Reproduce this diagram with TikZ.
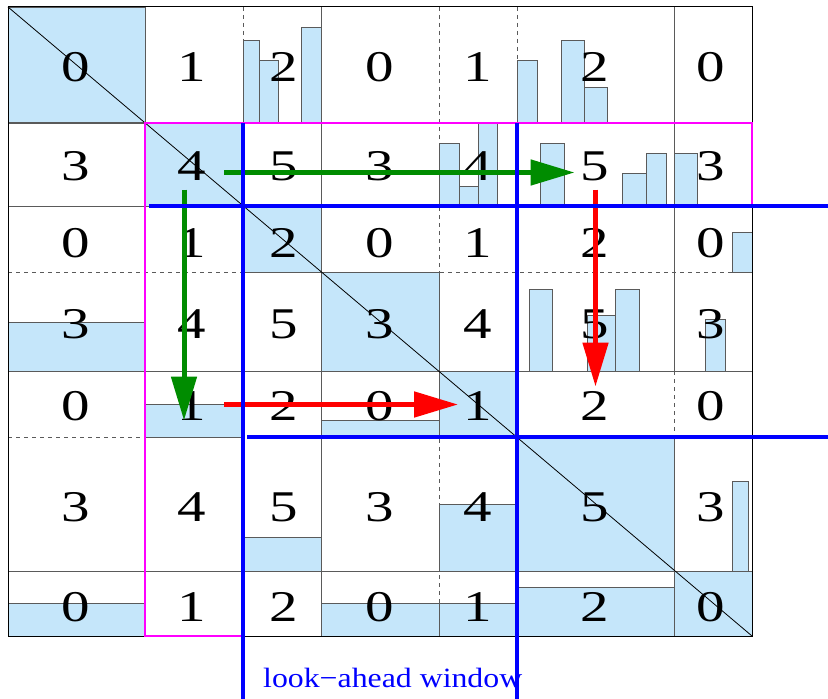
\documentclass[tikz,border=0pt]{standalone}
\usepackage{fontspec}
\setmainfont{Liberation Serif}
\newfontfamily\digitfont[FakeStretch=1.3]{Liberation Serif}
\newfontfamily\lblfont[FakeStretch=1.14]{Liberation Serif}
\usetikzlibrary{arrows.meta,calc}
\definecolor{cellblue}{RGB}{197,230,250}
\definecolor{gridgray}{RGB}{90,90,90}
\definecolor{arrgreen}{RGB}{0,140,0}
\definecolor{winblue}{RGB}{0,0,255}
\definecolor{pmag}{RGB}{255,0,255}
\definecolor{arrred}{RGB}{255,0,0}
\tikzset{
  fillbox/.style={fill=cellblue, draw=gridgray, line width=0.8bp},
  gridsolid/.style={draw=gridgray, line width=1bp},
  griddash/.style={draw=gridgray, line width=1bp, dash pattern=on 4bp off 4bp},
  digit/.style={font=\digitfont\fontsize{44}{44}\selectfont, inner sep=0pt},
  winline/.style={draw=winblue, line width=4.5bp},
  magline/.style={draw=pmag, line width=2.3bp},
  garrow/.style={draw=arrgreen, line width=5bp, -{Triangle[length=44bp,width=25bp]}},
  rarrow/.style={draw=arrred, line width=5bp, -{Triangle[length=44bp,width=25bp]}},
  wlabel/.style={text=winblue, font=\lblfont\fontsize{28}{28}\selectfont, inner sep=0pt}
}
\begin{document}
\begin{tikzpicture}[x=1bp,y=-1bp]
\useasboundingbox (0,0) rectangle (828,699);
% full diagonal cells
\path[fillbox] (8,7) rectangle (145,123);
\path[fillbox] (145,123) rectangle (243,206);
\path[fillbox] (243,206) rectangle (321,272);
\path[fillbox] (321,272) rectangle (439,371);
\path[fillbox] (439,371) rectangle (517,437);
\path[fillbox] (517,437) rectangle (674,571);
\path[fillbox] (674,571) rectangle (752,636);
% row 0 bars
\path[fillbox] (243,40.5) rectangle (259,123);
\path[fillbox] (259,60.5) rectangle (278,123);
\path[fillbox] (301.5,27.3) rectangle (321,123);
\path[fillbox] (517,60.5) rectangle (537,123);
\path[fillbox] (561,40.5) rectangle (584,123);
\path[fillbox] (584,87.3) rectangle (607.3,123);
% row 1 bars
\path[fillbox] (439,143.3) rectangle (459,206);
\path[fillbox] (459,186.5) rectangle (478,206);
\path[fillbox] (478,123) rectangle (497.7,206);
\path[fillbox] (540.7,143.3) rectangle (564.3,206);
\path[fillbox] (622.7,173.3) rectangle (646.7,206);
\path[fillbox] (646.7,153.3) rectangle (666,206);
\path[fillbox] (674,153.3) rectangle (697.7,206);
% row 2
\path[fillbox] (732.7,232.7) rectangle (752,272);
% row 3
\path[fillbox] (8,322) rectangle (145,371);
\path[fillbox] (529,289.3) rectangle (552.3,371);
\path[fillbox] (587.7,315.7) rectangle (615,371);
\path[fillbox] (615,289.3) rectangle (639,371);
\path[fillbox] (705,319) rectangle (725,371);
% row 4
\path[fillbox] (145,404.5) rectangle (243,437);
\path[fillbox] (321,420.7) rectangle (439,437);
% row 5
\path[fillbox] (243,537.3) rectangle (321,571);
\path[fillbox] (439,504.3) rectangle (517,571);
\path[fillbox] (732.7,481) rectangle (748.3,571);
% row 6
\path[fillbox] (8,603.5) rectangle (145,636);
\path[fillbox] (321,603.5) rectangle (439,636);
\path[fillbox] (439,603.5) rectangle (517,636);
\path[fillbox] (517,587) rectangle (674,636);
% grid lines
\draw[gridsolid] (8,123) -- (752,123);
\draw[gridsolid] (8,206) -- (752,206);
\draw[griddash] (8,272) -- (752,272);
\draw[gridsolid] (8,371) -- (752,371);
\draw[griddash] (8,437) -- (752,437);
\draw[gridsolid] (8,571) -- (752,571);
\draw[gridsolid] (145,7) -- (145,636);
\draw[griddash] (243,7) -- (243,636);
\draw[gridsolid] (321,7) -- (321,636);
\draw[griddash] (439,7) -- (439,636);
\draw[griddash] (517,7) -- (517,636);
\draw[gridsolid] (674,7) -- (674,371);
\draw[griddash] (674,371) -- (674,636);
\draw[black, line width=1bp] (8,7) rectangle (752,636);
\draw[black, line width=0.8bp] (8,7) -- (752,636);
% digits
\foreach \r/\yy in {0/67,1/166,2/243,3/324,4/406,5/507,6/607}{
  \foreach \c/\xx in {0/76,1/192,2/284,3/380,4/478,5/595,6/711}{
    \pgfmathtruncatemacro{\lab}{mod(\r,2)*3+mod(\c,3)}
    \node[digit] (n\r\c) at (\xx,\yy) {\lab};
  }
}
% arrows
\draw[garrow] ($(n11)+(32,6.5)$) -- ($(n15)+(-20.5,6.5)$);
\draw[garrow] ($(n11)+(-8,23.5)$) -- ($(n41)+(-8,14.5)$);
\draw[rarrow] ($(n41)+(32,-1.5)$) -- ($(n44)+(-20,-1.5)$);
\draw[rarrow] ($(n15)+(0.5,23.5)$) -- ($(n45)+(0.5,-19.5)$);
% magenta outline
\draw[magline] (145,123) -- (752,123) -- (752,206) -- (243,206) -- (243,636) -- (145,636) -- cycle;
% look-ahead window lines
\draw[winline] (149,206) -- (828,206);
\draw[winline] (243,123) -- (243,699);
\draw[winline] (517,123) -- (517,699);
\draw[winline] (247,437) -- (828,437);
\node[wlabel, anchor=base west] (lbl) at (263,687) {look−ahead window};
\end{tikzpicture}
\end{document}
